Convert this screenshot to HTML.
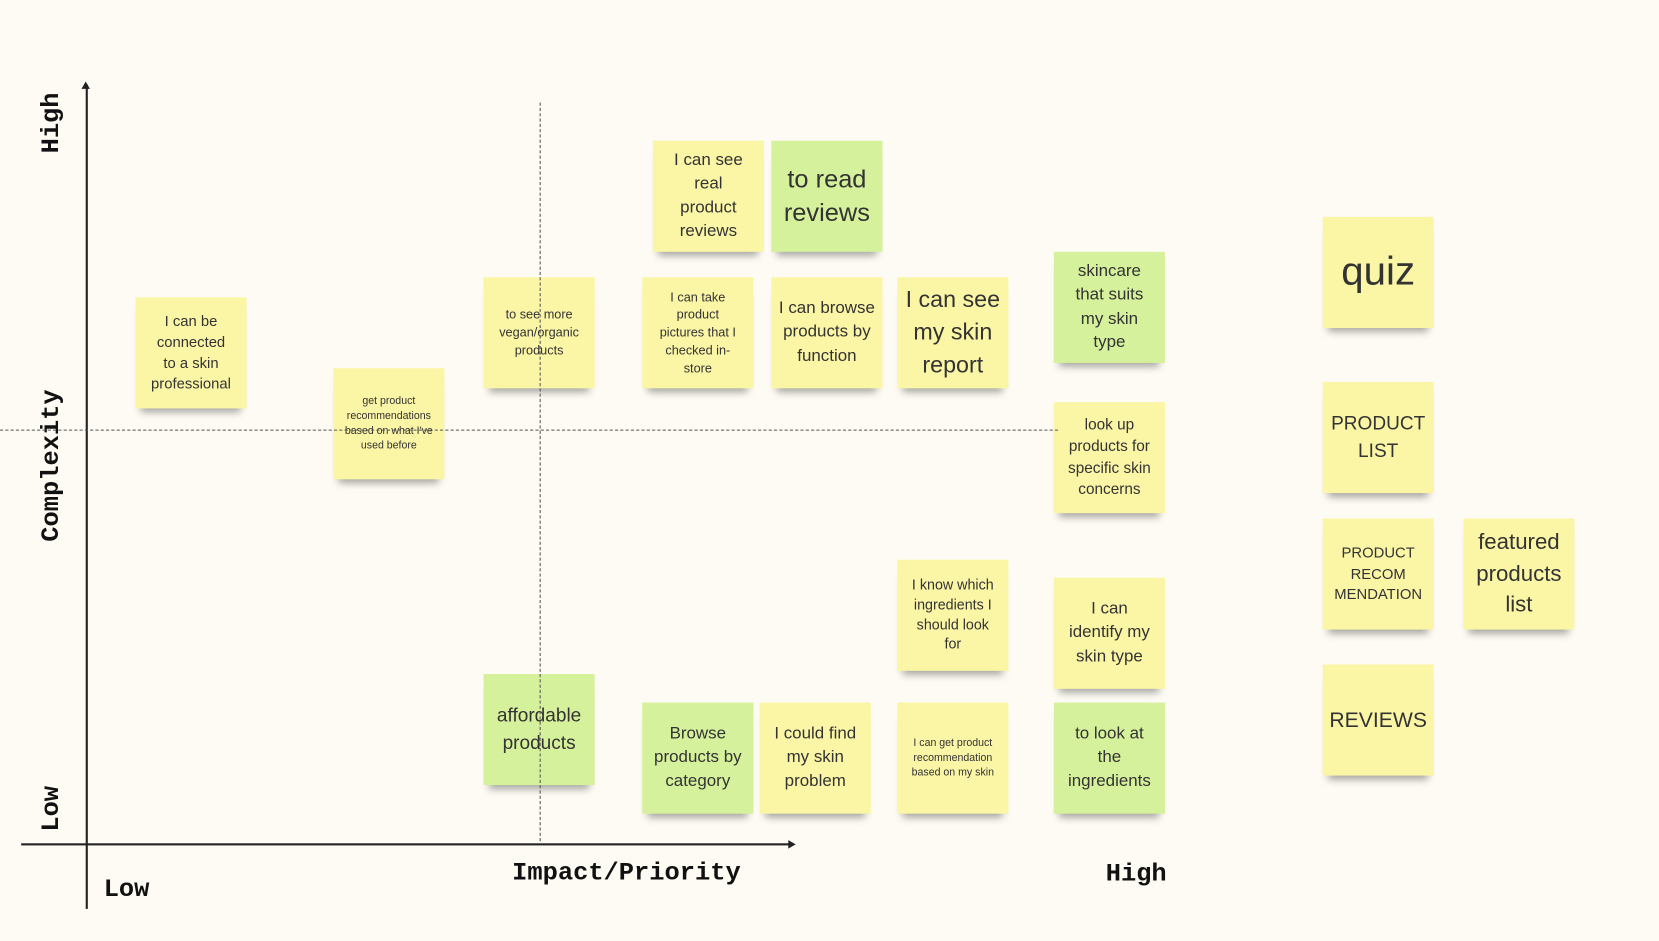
<!DOCTYPE html>
<html><head><meta charset="utf-8"><style>
html,body{margin:0;padding:0;background:#fdfbf3;overflow:hidden}
#w{position:absolute;left:0;top:0;width:1568px;height:889px;transform:scale(1.0581);transform-origin:0 0;background:#fdfbf3}
.n{position:absolute;width:105px;height:105px;background:#fbf6a6;display:flex;align-items:center;justify-content:center;text-align:center;font-family:"Liberation Sans",sans-serif;color:#333;line-height:1.4;box-shadow:0 9px 7px -5px rgba(0,0,0,.35);padding:0 13px;box-sizing:border-box}
.g{background:#d6f19b}
.ax{position:absolute;background:#222}
.lbl{position:absolute;font-family:"Liberation Mono",monospace;font-weight:bold;font-size:24px;color:#111;white-space:nowrap}
.rot{transform:rotate(-90deg);transform-origin:0 0}
</style></head><body><div id="w">
<div class="ax" style="left:81px;top:80px;width:1.5px;height:779px"></div>
<div style="position:absolute;left:77px;top:77px;width:0;height:0;border-left:4px solid transparent;border-right:4px solid transparent;border-bottom:7px solid #222"></div>
<div class="ax" style="left:20px;top:797px;width:728px;height:1.5px"></div>
<div style="position:absolute;left:745px;top:794px;width:0;height:0;border-top:4px solid transparent;border-bottom:4px solid transparent;border-left:7px solid #222"></div>

<div class="lbl rot" style="left:36px;top:145px">High</div>
<div class="lbl rot" style="left:36px;top:512px">Complexity</div>
<div class="lbl rot" style="left:36px;top:786px">Low</div>
<div class="lbl" style="left:98px;top:828px">Low</div>
<div class="lbl" style="left:484px;top:812px">Impact/Priority</div>
<div class="lbl" style="left:1045px;top:813px">High</div>

<div class="n" style="left:128px;top:281px;font-size:14px;padding:0 18px">I can be connected to a skin professional</div>
<div class="n" style="left:315px;top:348px;font-size:10px;padding:0 6px">get product recommendations based on what I've used before</div>
<div class="n" style="left:457px;top:262px;font-size:12px;padding:0 8px">to see more vegan/organic products</div>
<div class="n" style="left:617px;top:133px;font-size:16px;padding:0 18px">I can see real product reviews</div>
<div class="n g" style="left:729px;top:133px;font-size:24px;line-height:1.3;padding:0 6px">to read reviews</div>
<div class="n" style="left:607px;top:262px;font-size:12px;padding:0 12px">I can take product pictures that I checked in-store</div>
<div class="n" style="left:729px;top:262px;font-size:16px;padding:0 6px">I can browse products by function</div>
<div class="n" style="left:848px;top:262px;font-size:22px;padding:0 2px">I can see my skin report</div>
<div class="n g" style="left:996px;top:238px;font-size:16px;padding:0 18px">skincare that suits my skin type</div>
<div class="n" style="left:996px;top:380px;font-size:14.5px;padding:0 8px">look up products for specific skin concerns</div>
<div class="n" style="left:1250px;top:205px;font-size:38px">quiz</div>
<div class="n" style="left:1250px;top:361px;font-size:18px;padding:0 6px">PRODUCT LIST</div>
<div class="n" style="left:1250px;top:490px;font-size:14px;padding:0 6px">PRODUCT RECOM MENDATION</div>
<div class="n" style="left:1383px;top:490px;font-size:21px;padding:0 2px">featured products list</div>
<div class="n" style="left:1250px;top:628px;font-size:20px;padding:0 4px">REVIEWS</div>
<div class="n" style="left:848px;top:529px;font-size:13.5px;padding:0 10px">I know which ingredients I should look for</div>
<div class="n" style="left:996px;top:546px;font-size:16px;padding:0 14px">I can identify my skin type</div>
<div class="n g" style="left:457px;top:637px;font-size:18px;padding:0 6px">affordable products</div>
<div class="n g" style="left:607px;top:664px;font-size:16px;padding:0 8px">Browse products by category</div>
<div class="n" style="left:718px;top:664px;font-size:16px;padding:0 8px">I could find my skin problem</div>
<div class="n" style="left:848px;top:664px;font-size:10px;padding:0 8px">I can get product recommendation based on my skin</div>
<div class="n g" style="left:996px;top:664px;font-size:16px;padding:0 14px">to look at the ingredients</div>

<div style="position:absolute;left:510px;top:97px;height:698px;border-left:1px dashed #555"></div>
<div style="position:absolute;left:0;top:406px;width:1000px;border-top:1px dashed #555"></div>
</div></body></html>
